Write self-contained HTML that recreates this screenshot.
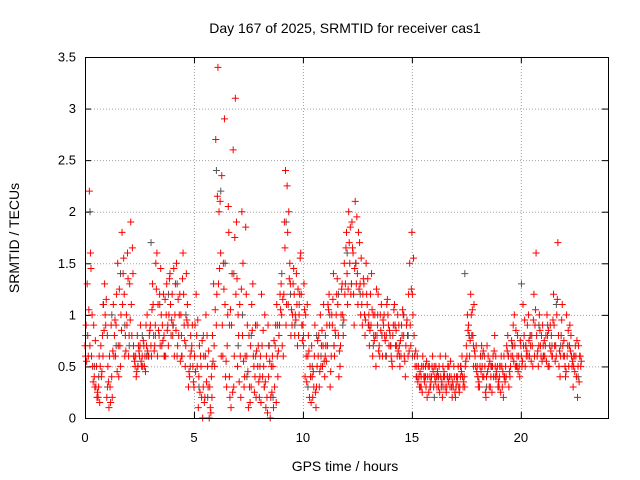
<!DOCTYPE html>
<html><head><meta charset="utf-8"><style>
body{margin:0;background:#fff}
svg{display:block;font-family:"Liberation Sans",sans-serif}
</style></head><body>
<svg id="c" width="640" height="480"></svg>
<script>
const xTicks=[0,5,10,15,20];
const yTicks=[0,0.5,1,1.5,2,2.5,3,3.5];
const yTickLabels=["0","0.5","1","1.5","2","2.5","3","3.5"];
const redA=[
0.7,1.3,2.2,0.6,0.9,0.3,0.2,0.5,0.8,1.3,
0.2,0.1,0.9,1.1,0.6,1.5,0.7,1.8,1.2,1.0,
0.6,1.9,1.4,0.5,0.8,0.6,0.5,0.7,0.9,0.6,
0.9,1.3,0.7,1.6,0.8,1.0,1.2,0.6,0.9,1.4,
1.2,0.6,1.5,0.8,1.0,1.6,0.5,1.1,0.4,0.7,
0.3,1.2,0.1,0.6,0.0,0.2,0.8,0.0,0.4,1.3,
2.7,3.4,2.1,0.9,2.9,0.3,1.8,0.1,2.6,3.1,
0.5,1.1,2.0,0.3,1.2,0.1,0.7,1.3,0.4,0.9,
0.2,1.2,0.5,0.1,0.9,0.0,0.6,0.3,1.1,0.8,
1.3,0.6,2.4,1.8,1.5,0.9,1.2,1.4,0.8,1.6,
0.9,0.4,1.1,0.2,0.7,0.3,0.1,0.6,1.0,0.5,
0.4,0.9,1.2,0.6,1.4,0.8,1.1,0.5,1.3,1.5,
1.8,2.0,1.2,1.6,2.1,1.4,1.7,1.1,1.3,1.5,
0.9,1.2,0.6,1.0,0.8,0.7,1.1,0.9,0.6,1.0,
0.8,0.5,1.1,0.7,0.9,0.6,1.0,0.4,0.8,1.5,
1.8,0.8,0.4,0.5,0.3,0.6,0.4,0.2,0.5,0.4,
0.3,0.5,0.4,0.6,0.2,0.4,0.3,0.5,0.4,0.3,
0.2,0.4,0.3,0.6,0.4,0.7,0.9,1.2,0.8,0.6,
0.5,0.3,0.7,0.4,0.2,0.6,0.3,0.5,0.8,0.4,
0.3,0.6,0.2,0.5,0.8,0.4,0.7,1.0,0.5,0.6,
0.7,1.1,0.5,0.9,0.6,0.8,1.2,1.6,0.5,0.7,
0.9,0.6,1.0,0.5,0.8,1.2,0.7,1.7,0.4,1.1,
0.6,1.0,0.5,0.8,0.3,0.7,0.2,0.6];
const redB=[
0.9,0.6,1.6,0.5,0.3,0.2,0.6,0.4,1.1,0.9,
0.5,0.3,0.2,0.8,1.2,0.4,1.0,1.4,0.8,1.6,
1.3,0.8,0.6,0.4,0.7,0.9,0.5,0.6,1.0,0.8,
0.6,0.8,1.5,1.1,0.7,0.9,0.6,1.3,1.0,0.8,
0.9,1.3,0.7,1.2,0.6,0.9,1.4,0.3,0.8,0.5,
0.9,0.5,0.7,0.2,0.6,1.0,0.3,0.1,0.8,0.5,
1.2,2.0,0.6,1.5,0.4,1.0,0.2,1.4,0.6,1.9,
0.8,0.2,1.5,0.6,0.9,0.3,1.1,0.5,0.2,0.7,
0.6,0.4,1.0,0.2,0.7,0.5,0.1,0.9,0.4,1.2,
0.7,1.9,1.1,2.0,0.8,1.3,1.0,0.7,1.2,0.9,
1.3,0.6,0.8,0.4,0.2,0.9,0.5,0.3,0.7,1.1,
0.7,1.1,0.3,0.9,0.6,1.2,0.4,1.0,0.8,1.3,
1.1,1.5,1.9,0.9,1.3,1.8,1.0,1.2,0.8,1.1,
0.7,1.4,0.8,0.5,1.2,1.0,0.6,0.8,1.1,0.7,
0.6,0.9,0.7,1.0,0.5,0.8,0.6,0.9,1.2,0.7,
1.0,0.5,0.6,0.3,0.5,0.4,0.3,0.5,0.3,0.6,
0.4,0.3,0.5,0.3,0.4,0.6,0.5,0.3,0.2,0.4,
0.4,0.3,0.5,0.3,0.5,1.0,0.6,0.8,1.1,0.7,
0.3,0.6,0.4,0.5,0.7,0.3,0.5,0.4,0.6,0.3,
0.5,0.3,0.4,0.7,0.3,0.6,0.9,0.5,0.8,0.4,
0.5,0.8,0.6,1.0,0.7,0.5,0.9,0.6,1.0,0.8,
0.6,0.8,0.5,0.9,0.6,0.7,1.0,0.5,0.8,0.6,
0.4,0.7,0.9,0.5,0.6,0.4,0.7,0.5];
const redC=[
0.6,0.8,0.7,1.0,0.4,0.5,0.3,0.7,0.6,1.0,
0.8,0.6,0.4,0.6,0.9,0.7,0.5,1.1,0.6,0.9,
0.8,1.1,0.7,0.6,0.5,0.7,0.6,0.5,0.7,0.6,
0.7,1.1,0.9,0.6,1.2,0.7,0.8,1.0,0.7,1.1,
0.8,1.0,0.6,1.0,0.8,1.2,0.7,0.9,0.6,0.9,
0.6,0.8,0.4,0.5,0.3,0.6,0.5,0.3,0.2,0.7,
0.9,1.3,1.6,0.6,1.1,0.7,0.4,0.9,0.3,1.2,
1.0,0.6,0.8,0.4,0.6,0.8,0.3,0.6,0.9,0.5,
0.4,0.7,0.3,0.6,0.4,0.2,0.5,0.7,0.6,0.9,
1.0,1.2,0.9,1.1,1.3,1.0,0.8,1.1,1.0,1.2,
0.8,1.0,0.6,0.5,0.4,0.6,0.3,0.8,0.5,0.7,
0.6,0.7,0.9,1.0,0.7,1.0,0.8,0.7,1.0,1.2,
1.4,1.7,1.3,1.2,1.5,1.1,1.3,0.9,1.0,1.2,
1.0,0.9,1.0,0.8,0.9,0.6,0.8,1.0,0.8,0.9,
0.7,0.8,0.9,0.6,0.7,0.9,0.8,0.7,0.6,0.9,
1.2,0.6,0.5,0.4,0.4,0.5,0.5,0.4,0.4,0.5,
0.5,0.4,0.3,0.4,0.5,0.3,0.4,0.4,0.3,0.5,
0.3,0.5,0.4,0.4,0.3,0.6,0.8,1.0,0.7,0.5,
0.4,0.5,0.5,0.6,0.4,0.5,0.4,0.6,0.5,0.5,
0.4,0.5,0.6,0.4,0.6,0.5,0.6,0.7,0.6,0.5,
0.6,0.7,0.7,0.6,0.8,0.7,0.6,0.8,0.7,0.6,
0.7,0.7,0.8,0.7,0.6,0.9,0.6,0.8,0.6,0.7,
0.5,0.6,0.7,0.6,0.5,0.6,0.5,0.6];
const redD=[
0.55,1.05,1.45,0.35,0.75,0.25,0.15,0.45,0.85,1.15,
0.35,0.15,0.65,0.95,0.45,1.25,0.85,1.55,0.65,1.35,
0.95,1.65,0.55,0.45,0.65,0.55,0.75,0.45,0.65,0.85,
1.05,0.65,1.25,0.85,1.45,0.75,1.15,0.85,1.35,0.95,
1.45,0.85,1.15,0.55,1.35,0.75,0.95,0.45,0.65,0.35,
0.45,0.95,0.25,0.75,0.15,0.35,0.65,0.05,0.55,1.05,
2.15,1.45,2.35,1.25,0.55,2.05,1.05,0.25,1.75,1.35,
0.35,1.25,0.55,1.85,0.45,0.15,0.85,0.25,0.65,0.35,
0.15,0.85,0.35,0.05,0.55,0.25,0.75,0.15,0.65,1.05,
1.15,1.65,2.25,1.35,1.05,1.45,0.95,1.25,1.55,0.75,
1.05,0.35,0.65,0.15,0.45,0.25,0.75,0.45,0.85,0.55,
0.55,1.05,0.45,1.15,0.85,1.35,0.65,1.25,0.95,1.65,
1.25,1.85,1.65,1.45,1.95,1.25,1.55,1.35,0.95,1.35,
0.85,1.05,0.75,1.25,0.65,0.85,0.95,0.75,1.15,0.85,
0.55,1.05,0.85,0.65,0.75,1.05,0.55,0.95,0.65,1.25,
1.55,0.65,0.35,0.45,0.25,0.35,0.55,0.25,0.35,0.45,
0.35,0.45,0.25,0.35,0.45,0.25,0.35,0.55,0.35,0.25,
0.35,0.25,0.45,0.35,0.55,0.85,0.75,1.05,0.65,0.45,
0.35,0.45,0.65,0.25,0.45,0.55,0.25,0.65,0.45,0.35,
0.25,0.45,0.35,0.65,0.45,0.75,0.55,0.85,0.45,0.75,
0.55,0.95,0.65,0.75,0.55,0.95,1.05,0.65,0.85,0.55,
0.75,0.55,0.85,0.65,0.95,0.55,1.15,0.65,0.95,0.75,
0.45,0.85,0.65,0.55,0.45,0.75,0.35,0.55];
const grey=[
0.8,2.0,0.5,0.4,1.1, 0.3,1.0,0.7,1.4,0.9, 0.7,0.6,0.5,0.8,0.6, 1.7,0.8,1.1,0.6,1.2,
0.9,1.3,0.6,1.0,0.5, 0.6,0.3,0.8,0.2,0.5, 2.4,2.2,1.5,0.9,1.4, 0.7,1.0,0.4,0.8,0.6,
0.5,0.3,0.7,0.2,0.9, 1.4,1.9,1.2,0.9,1.1, 0.7,0.3,0.5,0.8,0.6, 0.8,1.0,0.7,1.2,0.9,
1.6,1.3,1.5,1.2,1.0, 0.9,0.7,1.0,0.8,0.6, 0.7,0.9,0.6,1.0,0.8, 0.6,0.4,0.3,0.4,0.3,
0.2,0.4,0.3,0.4,0.3, 0.3,0.5,1.4,0.8,0.5, 0.4,0.6,0.3,0.5,0.4, 0.5,0.4,0.6,0.7,0.5,
1.3,0.7,0.8,0.6,0.9, 0.6,0.9,0.7,1.1,0.7, 0.5,0.7,0.6,0.4];

const L=85,R=608,T=57,B=418,XMAX=24,YMAX=3.5;
const sx=v=>L+(R-L)*v/XMAX, sy=v=>B-(B-T)*v/YMAX;
const svg=document.getElementById('c');const NS='http://www.w3.org/2000/svg';
function mk(tag,at,parent){const e=document.createElementNS(NS,tag);for(const k in at)e.setAttribute(k,at[k]);(parent||svg).appendChild(e);return e;}
const grid=mk('g',{stroke:'#a0a0a0','stroke-width':1,'stroke-dasharray':'1,2'});


yTicks.forEach((v,i)=>{
 if(v>0&&v<YMAX) mk('line',{x1:L,x2:R,y1:sy(v)+.5,y2:sy(v)+.5},grid);
 const t=mk('text',{x:L-9,y:sy(v)+4.5,'text-anchor':'end','font-size':13,fill:'#000'});t.textContent=yTickLabels[i];
 
 
 mk('line',{x1:L,x2:L+6,y1:sy(v)+.5,y2:sy(v)+.5,stroke:'#000'});
 mk('line',{x1:R-6,x2:R,y1:sy(v)+.5,y2:sy(v)+.5,stroke:'#000'});
});
xTicks.forEach(v=>{
 if(v>0) mk('line',{x1:sx(v)+.5,x2:sx(v)+.5,y1:T,y2:B},grid);
 const t=mk('text',{x:sx(v),y:B+24,'text-anchor':'middle','font-size':13,fill:'#000'});t.textContent=v;
 
 
 mk('line',{x1:sx(v)+.5,x2:sx(v)+.5,y1:B,y2:B-6,stroke:'#000'});
 mk('line',{x1:sx(v)+.5,x2:sx(v)+.5,y1:T,y2:T+6,stroke:'#000'});
});
function plus(g,x,y){mk('path',{d:`M${x-3.5} ${y}h7M${x} ${y-3.5}v7`},g);}
const gg=mk('g',{stroke:'#555','stroke-width':1});


grey.forEach((v,i)=>plus(gg,sx(i*0.2+0.03),sy(v)));
const rg=mk('g',{stroke:'#ff0000','stroke-width':1});


redA.forEach((v,i)=>plus(rg,sx(i*0.1),sy(v)));
redB.forEach((v,i)=>plus(rg,sx(i*0.1+0.05),sy(v)));
redC.forEach((v,i)=>plus(rg,sx(i*0.1+0.025),sy(v)));
redD.forEach((v,i)=>plus(rg,sx(i*0.1+0.075),sy(v)));
const bd=mk('rect',{x:L+.5,y:T+.5,width:R-L,height:B-T,fill:'none',stroke:'#000'});


const tt=mk('text',{x:345,y:33,'text-anchor':'middle','font-size':14});tt.textContent='Day 167 of 2025, SRMTID for receiver cas1';


const xl=mk('text',{x:345,y:471,'text-anchor':'middle','font-size':14});xl.textContent='GPS time / hours';


const yl=mk('text',{x:0,y:0,'text-anchor':'middle','font-size':14,transform:'translate(19,238) rotate(-90)'});yl.textContent='SRMTID / TECUs';


</script>
</body></html>
